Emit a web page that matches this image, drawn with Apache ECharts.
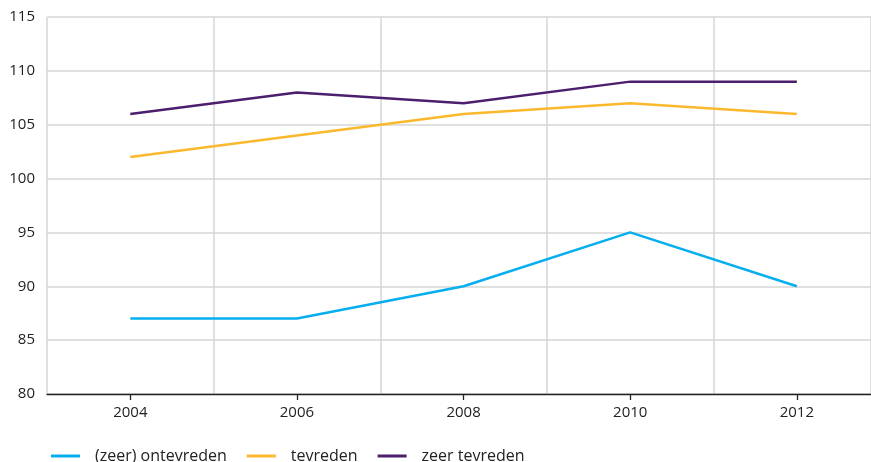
<!DOCTYPE html>
<html>
<head>
<meta charset="utf-8">
<script src="https://cdn.jsdelivr.net/npm/echarts@6/dist/echarts.min.js"></script>
<style>
  html, body { margin: 0; padding: 0; background: #fff; }
  #chart { width: 871px; height: 462px; }
</style>
</head>
<body>
<div id="chart"></div>
<script>
// Labelled years on the x axis; grid lines fall on the odd years between them
const years = [2004, 2006, 2008, 2010, 2012];
const yTicks = [80, 85, 90, 95, 100, 105, 110, 115];

const seriesNames = ['(zeer) ontevreden', 'tevreden', 'zeer tevreden'];
const ontevreden = [87, 87, 90, 95, 90];
const tevreden = [102, 104, 106, 107, 106];
const zeerTevreden = [106, 108, 107, 109, 109];

const colors = ['#05aeef', '#fbb82c', '#4b1e6e'];
const fontFamily = '"Open Sans", Lato, sans-serif';
const xMin = 2003, xMax = 2012.89;

const pairs = vals => years.map((y, i) => [y, vals[i]]);

const chart = echarts.init(document.getElementById('chart'));
chart.setOption({
  animation: false,
  color: colors,
  textStyle: { fontFamily },
  grid: { left: 47, right: 0, top: 17, bottom: 68, containLabel: false },
  legend: {
    left: 46,
    top: 443,
    icon: 'rect',
    itemWidth: 29,
    itemHeight: 3,
    itemGap: 20,
    textStyle: { fontSize: 16, color: '#222', fontFamily, padding: [0, 0, 0, 10] },
    data: seriesNames
  },
  xAxis: [
    {
      // labelled axis: ticks and labels on the even years
      type: 'value',
      position: 'bottom',
      min: xMin,
      max: xMax,
      interval: 2,
      axisLine: { onZero: false, lineStyle: { color: '#222', width: 1.3 } },
      axisTick: { show: true, customValues: years, length: 6, lineStyle: { color: '#222', width: 1.3 } },
      axisLabel: { customValues: years, color: '#222', fontSize: 15, margin: 11, formatter: v => String(v) },
      splitLine: { show: false },
      z: 3
    },
    {
      // vertical grid lines on the odd years
      type: 'value',
      position: 'bottom',
      min: xMin,
      max: xMax,
      interval: 2,
      axisLine: { show: false },
      axisTick: { show: false },
      axisLabel: { show: false },
      splitLine: { show: true, lineStyle: { color: '#d6d6d6', width: 1.5 } }
    }
  ],
  yAxis: {
    type: 'value',
    min: yTicks[0],
    max: yTicks[yTicks.length - 1],
    interval: 5,
    axisLine: { show: false },
    axisTick: { show: false },
    axisLabel: { color: '#222', fontSize: 15, margin: 12 },
    splitLine: { lineStyle: { color: '#d6d6d6', width: 1.5 } }
  },
  series: [
    { name: seriesNames[0], type: 'line', xAxisIndex: 0, data: pairs(ontevreden), showSymbol: false, lineStyle: { width: 2.5 } },
    { name: seriesNames[1], type: 'line', xAxisIndex: 0, data: pairs(tevreden), showSymbol: false, lineStyle: { width: 2.5 } },
    { name: seriesNames[2], type: 'line', xAxisIndex: 0, data: pairs(zeerTevreden), showSymbol: false, lineStyle: { width: 2.5 } }
  ]
});
</script>
</body>
</html>
